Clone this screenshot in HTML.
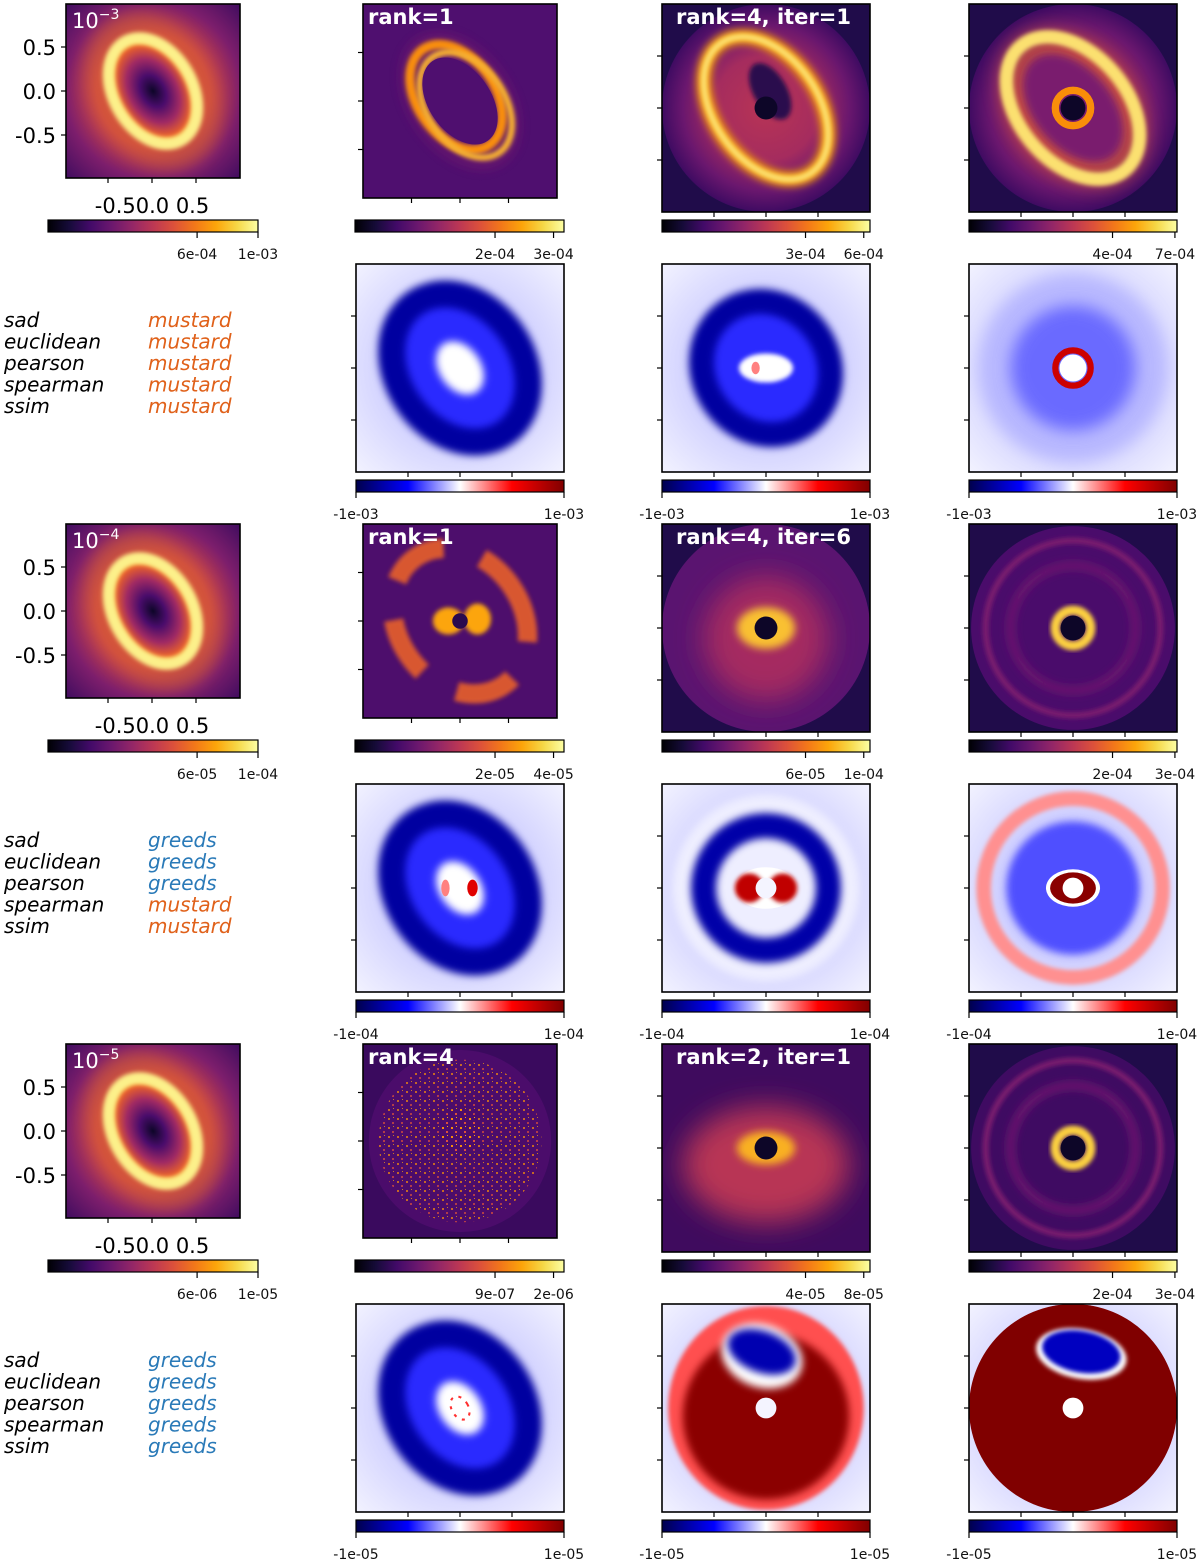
<!DOCTYPE html>
<html><head><meta charset="utf-8"><style>
html,body{margin:0;padding:0;background:#fff;}
svg{display:block;font-family:"DejaVu Sans","Liberation Sans",sans-serif;}
</style></head><body>
<svg id="fig" width="1200" height="1562" viewBox="0 0 1200 1562" xmlns="http://www.w3.org/2000/svg">
<defs>
<linearGradient id="inferno" x1="0" x2="1" y1="0" y2="0">
<stop offset="0" stop-color="#000004"/><stop offset=".1" stop-color="#160b39"/><stop offset=".2" stop-color="#420a68"/><stop offset=".3" stop-color="#6a176e"/><stop offset=".4" stop-color="#932667"/><stop offset=".5" stop-color="#bc3754"/><stop offset=".6" stop-color="#dd513a"/><stop offset=".7" stop-color="#f37819"/><stop offset=".8" stop-color="#fca50a"/><stop offset=".9" stop-color="#f6d746"/><stop offset="1" stop-color="#fcffa4"/>
</linearGradient>
<linearGradient id="seismic" x1="0" x2="1" y1="0" y2="0">
<stop offset="0" stop-color="#00004c"/><stop offset=".25" stop-color="#0000ff"/><stop offset=".5" stop-color="#ffffff"/><stop offset=".75" stop-color="#ff0000"/><stop offset="1" stop-color="#800000"/>
</linearGradient>
<radialGradient id="modelBg" cx=".5" cy=".5" r=".72">
<stop offset="0" stop-color="#d9542f"/><stop offset=".45" stop-color="#c8424a"/><stop offset=".7" stop-color="#7d1e6c"/><stop offset="1" stop-color="#3c0b5e"/>
</radialGradient>
<radialGradient id="innerGrad" cx=".5" cy=".5" r=".5">
<stop offset="0" stop-color="#0d0628"/><stop offset=".3" stop-color="#4a0c6b"/><stop offset=".6" stop-color="#a02a63"/><stop offset=".85" stop-color="#e8602b"/><stop offset="1" stop-color="#f8a018"/>
</radialGradient>
<radialGradient id="diskGrad" cx=".5" cy=".5" r=".5">
<stop offset="0" stop-color="#b83455"/><stop offset=".5" stop-color="#a52c5e"/><stop offset=".8" stop-color="#6a176e"/><stop offset="1" stop-color="#3f0b62"/>
</radialGradient>
<radialGradient id="divBg" cx=".5" cy=".5" r=".72">
<stop offset="0" stop-color="#a8a8ff"/><stop offset=".6" stop-color="#d8d8ff"/><stop offset="1" stop-color="#f4f4ff"/>
</radialGradient>
<filter id="b2" x="-20%" y="-20%" width="140%" height="140%"><feGaussianBlur stdDeviation="2"/></filter>
<filter id="b4" x="-30%" y="-30%" width="160%" height="160%"><feGaussianBlur stdDeviation="4"/></filter>
<filter id="b8" x="-40%" y="-40%" width="180%" height="180%"><feGaussianBlur stdDeviation="8"/></filter>
<filter id="b14" x="-50%" y="-50%" width="200%" height="200%"><feGaussianBlur stdDeviation="14"/></filter>
<pattern id="speck" width="9" height="9" patternUnits="userSpaceOnUse">
<rect x="1" y="2" width="2" height="2" fill="#f98e09"/><rect x="5" y="6" width="2" height="2" fill="#dd513a"/><rect x="6" y="1" width="1" height="1" fill="#fca50a"/>
</pattern>
</defs>
</svg>
<script>
const NS='http://www.w3.org/2000/svg';
const svg=document.getElementById('fig');

// ---- data ----
const exponents=['-3','-4','-5'];
const rankLabels=['rank=1','rank=1','rank=4'];
const iterLabels=['rank=4, iter=1','rank=4, iter=6','rank=2, iter=1'];
const metricNames=['sad','euclidean','pearson','spearman','ssim'];
const winners0=['mustard','mustard','mustard','mustard','mustard'];
const winners1=['greeds','greeds','greeds','mustard','mustard'];
const winners2=['greeds','greeds','greeds','greeds','greeds'];
const winners=[winners0,winners1,winners2];
const axisTicks=['0.5','0.0','-0.5'];
const axisTickVals=[0.5,0.0,-0.5];
const cb0Labels=[['6e-04','1e-03'],['6e-05','1e-04'],['6e-06','1e-05']];
const cb1Labels=[['2e-04','3e-04'],['2e-05','4e-05'],['9e-07','2e-06']];
const cb2Labels=[['3e-04','6e-04'],['6e-05','1e-04'],['4e-05','8e-05']];
const cb3Labels=[['4e-04','7e-04'],['2e-04','3e-04'],['2e-04','3e-04']];
const cbFracs0=[0.71,1.0];
const cbFracs1=[0.67,0.95];
const cbFracs2=[0.69,0.97];
const cbFracs3=[0.69,0.99];
const divLabels=[['-1e-03','1e-03'],['-1e-04','1e-04'],['-1e-05','1e-05']];

function mk(tag,attrs,parent,name){
  const e=document.createElementNS(NS,tag);
  for(const k in attrs) e.setAttribute(k,attrs[k]);
  
  
  parent.appendChild(e);
  return e;
}
let clipId=0;
function panel(x,y,s,name,ticks){
  const g=mk('g',{},svg,name);
  const id='c'+(clipId++);
  const cp=mk('clipPath',{id:id},g,name+'-clip');
  mk('rect',{x:x,y:y,width:s,height:s},cp,name+'-clip-rect');
  const inner=mk('g',{'clip-path':'url(#'+id+')'},g,name+'-image');
  const cx=x+s/2, cy=y+s/2;
  const P={
    rect(fill,nm){return mk('rect',{x:x,y:y,width:s,height:s,fill:fill},inner,nm);},
    E(fx,fy,rx,ry,rot,attrs,nm){
      const a=Object.assign({cx:cx+fx*s,cy:cy+fy*s,rx:rx*s,ry:ry*s,transform:'rotate('+rot+' '+(cx+fx*s)+' '+(cy+fy*s)+')'},attrs);
      if(a['stroke-width']!==undefined) a['stroke-width']=a['stroke-width']*s;
      return mk('ellipse',a,inner,nm);
    }
  };
  P.finish=function(){
    mk('rect',{x:x,y:y,width:s,height:s,fill:'none',stroke:'#000','stroke-width':1.6},g,name+'-frame');
    if(ticks){
      [0.25,0.5,0.75].forEach(f=>{
        mk('line',{x1:x-5,x2:x,y1:y+f*s,y2:y+f*s,stroke:'#000','stroke-width':1.2},g,name+'-ytick');
        mk('line',{x1:x+f*s,x2:x+f*s,y1:y+s,y2:y+s+5,stroke:'#000','stroke-width':1.2},g,name+'-xtick');
      });
    }
  };
  return P;
}
function colorbar(x,y,w,grad,labels,fracs,ly,name){
  const g=mk('g',{},svg,name);
  mk('rect',{x:x,y:y,width:w,height:12,fill:'url(#'+grad+')',stroke:'#000','stroke-width':1.2},g,name+'-bar');
  labels.forEach((t,i)=>{
    const tx=x+fracs[i]*w;
    mk('line',{x1:tx,x2:tx,y1:y+12,y2:y+18,stroke:'#000','stroke-width':1.2},g,name+'-tick');
    const tt=mk('text',{x:tx,y:ly,'font-size':14,'text-anchor':'middle',fill:'#111'},g,name+'-tick-label');
    tt.textContent=t;
  });
}
function text(x,y,str,attrs,name){const t=mk('text',Object.assign({x:x,y:y},attrs),svg,name);t.textContent=str;return t;}

for(let gi=0;gi<3;gi++){
  const o=520*gi;
  const m=panel(66,4+o,174,'model-panel-'+gi,false);
  m.rect('url(#modelBg)','model-bg');
  m.E(0,0,.36,.48,-30,{fill:'#e06a2a',opacity:.45,filter:'url(#b8)'},'model-glow');
  m.E(0,0,.225,.325,-30,{fill:'url(#innerGrad)'},'model-inner');
  m.E(0,0,.225,.325,-30,{fill:'none',stroke:'#fcf08a','stroke-width':.07,filter:'url(#b2)'},'model-ring');
  m.finish();
  text(72,28+o,'10',{fill:'#fff','font-size':21},'exponent-label').innerHTML='10<tspan dy="-9" font-size="14">−'+exponents[gi].slice(1)+'</tspan>';
  axisTickVals.forEach((v,i)=>{
    const yy=4+o+87-v*88;
    mk('line',{x1:61,x2:66,y1:yy,y2:yy,stroke:'#000','stroke-width':1.2},svg,'model-ytick');
    text(56,yy+8,axisTicks[i],{'font-size':21,'text-anchor':'end',fill:'#000'},'model-ytick-label');
  });
  [-0.5,0,0.5].forEach(v=>{
    const xx=152+v*88;
    mk('line',{x1:xx,x2:xx,y1:178+o,y2:183+o,stroke:'#000','stroke-width':1.2},svg,'model-xtick');
  });
  text(152,213+o,'-0.50.0 0.5',{'font-size':21,'text-anchor':'middle',fill:'#000'},'model-xtick-labels');
  colorbar(48,220+o,210,'inferno',cb0Labels[gi],cbFracs0,259+o,'model-colorbar-'+gi);

  const r=panel(363,4+o,194,'rank-panel-'+gi,true);
  if(gi===0){
    r.rect('#4f0f6f','rank-bg');
    r.E(0,0,.27,.4,-35,{fill:'#6a176e',opacity:.6,filter:'url(#b4)'},'rank-wedge');
    r.E(-.02,-.02,.2,.3,-35,{fill:'none',stroke:'#f98e09','stroke-width':.05,filter:'url(#b2)'},'rank-ring');
    r.E(.03,.02,.2,.3,-35,{fill:'none',stroke:'#f6b030','stroke-width':.035,filter:'url(#b2)'},'rank-ring2');
    r.E(0,0,.16,.25,-35,{fill:'#4f0f6f'},'rank-hole');
  } else if(gi===1){
    r.rect('#4d0e6c','rank-bg');
    r.E(0,0,.32,.4,-35,{fill:'none',stroke:'#e8602b','stroke-width':.1,'stroke-dasharray':'60 40',filter:'url(#b2)',opacity:.9},'rank-arcs');
    r.E(-.06,0,.08,.07,0,{fill:'#fca50a',filter:'url(#b2)'},'rank-blob-left');
    r.E(.09,-.01,.07,.08,0,{fill:'#fca50a',filter:'url(#b2)'},'rank-blob-right');
    r.E(0,0,.04,.04,0,{fill:'#2a0a4e'},'rank-center');
  } else {
    r.rect('#3a0a5e','rank-bg');
    r.E(0,0,.47,.47,0,{fill:'#4b0c6b'},'rank-disk');
    r.E(0,0,.42,.42,0,{fill:'url(#speck)',opacity:.7},'rank-speckle');
    r.E(0,-.05,.1,.12,0,{fill:'url(#speck)'},'rank-speckle-core');
  }
  r.finish();
  text(368,24+o,rankLabels[gi],{fill:'#fff','font-size':21,'font-weight':'bold'},'rank-label');
  colorbar(355,220+o,209,'inferno',cb1Labels[gi],cbFracs1,259+o,'rank-colorbar-'+gi);

  const p2=panel(662,4+o,208,'iter-panel-'+gi,true);
  p2.rect('#200c4a','iter-bg');
  if(gi===0){
    p2.E(0,0,.5,.5,0,{fill:'url(#diskGrad)'},'iter-disk');
    p2.E(0,0,.25,.38,-35,{fill:'none',stroke:'#fba60f','stroke-width':.07,filter:'url(#b4)'},'iter-ring');
    p2.E(0,0,.25,.38,-35,{fill:'none',stroke:'#fce070','stroke-width':.03,filter:'url(#b2)'},'iter-ring-core');
    p2.E(.02,-.08,.08,.15,-30,{fill:'#2a0a4e',filter:'url(#b2)'},'iter-dark-center');
    p2.E(0,0,.055,.055,0,{fill:'#0d0628'},'iter-hole');
  } else if(gi===1){
    p2.E(0,0,.5,.5,0,{fill:'#5a1470'},'iter-disk');
    p2.E(0,.05,.3,.3,0,{fill:'#a52c60',filter:'url(#b14)'},'iter-glow');
    p2.E(0,0,.14,.1,0,{fill:'#f9c030',filter:'url(#b4)'},'iter-bright');
    p2.E(0,0,.055,.055,0,{fill:'#0d0628'},'iter-hole');
  } else {
    p2.rect('#3f0b5e','iter-disk');
    p2.E(0,.08,.4,.28,0,{fill:'#b83455',filter:'url(#b14)'},'iter-glow');
    p2.E(0,0,.14,.08,0,{fill:'#f9b020',filter:'url(#b4)'},'iter-bright');
    p2.E(0,0,.055,.055,0,{fill:'#0d0628'},'iter-hole');
  }
  p2.finish();
  text(676,24+o,iterLabels[gi],{fill:'#fff','font-size':21,'font-weight':'bold'},'iter-label');
  colorbar(662,220+o,208,'inferno',cb2Labels[gi],cbFracs2,259+o,'iter-colorbar-'+gi);

  const p3=panel(969,4+o,208,'final-panel-'+gi,true);
  p3.rect('#200c4a','final-bg');
  if(gi===0){
    p3.E(0,0,.5,.5,0,{fill:'url(#diskGrad)'},'final-disk');
    p3.E(0,0,.3,.43,-40,{fill:'#e06a2a',opacity:.5,filter:'url(#b8)'},'final-glow');
    p3.E(0,0,.26,.39,-40,{fill:'none',stroke:'#fbe070','stroke-width':.065,filter:'url(#b2)'},'final-ring');
    p3.E(0,0,.19,.3,-40,{fill:'#7a1f6e',filter:'url(#b4)'},'final-inner');
    p3.E(0,0,.085,.085,0,{fill:'none',stroke:'#f98e09','stroke-width':.035},'final-inner-ring');
    p3.E(0,0,.06,.06,0,{fill:'#0d0628'},'final-hole');
  } else {
    p3.E(0,0,.49,.49,0,{fill:gi===1?'#4a0c6b':'#3f0b62'},'final-disk');
    p3.E(0,0,.42,.42,0,{fill:'none',stroke:'#7a1f6e','stroke-width':.03,filter:'url(#b2)'},'final-faint-ring');
    p3.E(0,0,.3,.3,0,{fill:'none',stroke:'#6a176e','stroke-width':.04,filter:'url(#b4)'},'final-faint-ring2');
    p3.E(0,0,.085,.085,0,{fill:'none',stroke:'#fcd040','stroke-width':.045,filter:'url(#b2)'},'final-inner-ring');
    p3.E(0,0,.06,.06,0,{fill:'#0d0628'},'final-hole');
  }
  p3.finish();
  colorbar(969,220+o,208,'inferno',cb3Labels[gi],cbFracs3,259+o,'final-colorbar-'+gi);

  metricNames.forEach((nm,i)=>{
    const yy=327+o+i*21.5;
    text(4,yy,nm,{'font-size':20,'font-style':'italic',fill:'#000'},'metric-name');
    const w=winners[gi][i];
    text(148,yy,w,{'font-size':20,'font-style':'italic',fill:w==='mustard'?'#e0611a':'#2a7ab8'},'metric-winner');
  });

  const d1=panel(356,264+o,208,'residual-rank-'+gi,true);
  d1.rect('url(#divBg)','residual-bg');
  d1.E(0,0,.31,.39,-35,{fill:'#2a2aff',filter:'url(#b4)'},'residual-inner');
  d1.E(0,0,.3,.38,-35,{fill:'none',stroke:'#0000a0','stroke-width':.13,filter:'url(#b4)'},'residual-ring');
  d1.E(0,0,.1,.14,-35,{fill:'#ffffff',filter:'url(#b4)'},'residual-center');
  if(gi===1){
    d1.E(.06,0,.025,.04,0,{fill:'#e00000'},'residual-red-blob');
    d1.E(-.07,0,.02,.04,0,{fill:'#ff8080'},'residual-red-blob2');
  }
  if(gi===2){
    d1.E(0,0,.04,.06,-30,{fill:'none',stroke:'#ff3030','stroke-width':.01,'stroke-dasharray':'3 6'},'residual-red-specks');
  }
  d1.finish();
  colorbar(356,480+o,208,'seismic',divLabels[gi],[0,1],519+o,'residual-rank-colorbar-'+gi);

  const d2=panel(662,264+o,208,'residual-iter-'+gi,true);
  d2.rect('url(#divBg)','residual-bg');
  if(gi===0){
    d2.E(0,0,.3,.33,-35,{fill:'#2a2aff',filter:'url(#b4)'},'residual-inner');
    d2.E(0,0,.3,.33,-35,{fill:'none',stroke:'#0000a0','stroke-width':.12,filter:'url(#b4)'},'residual-ring');
    d2.E(0,0,.13,.07,0,{fill:'#ffffff',filter:'url(#b2)'},'residual-center');
    d2.E(-.05,0,.02,.03,0,{fill:'#ff8080'},'residual-red');
  } else if(gi===1){
    d2.E(0,0,.45,.45,0,{fill:'#eeeeff',filter:'url(#b4)'},'residual-outer');
    d2.E(0,0,.3,.3,0,{fill:'none',stroke:'#0000a8','stroke-width':.12,filter:'url(#b4)'},'residual-ring');
    d2.E(0,0,.15,.1,0,{fill:'#ffffff'},'residual-center');
    d2.E(-.08,0,.07,.07,0,{fill:'#c00000',filter:'url(#b2)'},'residual-lobe-left');
    d2.E(.08,0,.07,.07,0,{fill:'#c00000',filter:'url(#b2)'},'residual-lobe-right');
    d2.E(0,0,.05,.05,0,{fill:'#f4f4ff'},'residual-hole');
  } else {
    d2.E(0,0,.47,.49,0,{fill:'#ff5050',filter:'url(#b2)'},'residual-disk-edge');
    d2.E(0,.04,.4,.4,0,{fill:'#8b0000',filter:'url(#b4)'},'residual-disk');
    d2.E(-.02,-.25,.2,.15,20,{fill:'#ffffff',filter:'url(#b4)'},'residual-blue-halo');
    d2.E(-.02,-.27,.17,.1,20,{fill:'#0000b0',filter:'url(#b4)'},'residual-blue');
    d2.E(0,0,.05,.05,0,{fill:'#f4f4ff'},'residual-hole');
  }
  d2.finish();
  colorbar(662,480+o,208,'seismic',divLabels[gi],[0,1],519+o,'residual-iter-colorbar-'+gi);

  const d3=panel(969,264+o,208,'residual-final-'+gi,true);
  d3.rect('url(#divBg)','residual-bg');
  if(gi===0){
    d3.E(0,0,.45,.45,0,{fill:'#b8b8ff',filter:'url(#b8)'},'residual-outer');
    d3.E(0,0,.3,.3,0,{fill:'#6a6aff',filter:'url(#b8)'},'residual-inner');
    d3.E(0,0,.085,.085,0,{fill:'none',stroke:'#cc0000','stroke-width':.03},'residual-red-ring');
    d3.E(0,0,.065,.065,0,{fill:'#ffffff'},'residual-hole');
  } else if(gi===1){
    d3.E(0,0,.43,.43,0,{fill:'none',stroke:'#ff9090','stroke-width':.07,filter:'url(#b2)'},'residual-red-outer-ring');
    d3.E(0,0,.32,.32,0,{fill:'#5050ff',filter:'url(#b4)'},'residual-inner');
    d3.E(0,0,.13,.09,0,{fill:'#ffffff'},'residual-white');
    d3.E(0,0,.11,.075,0,{fill:'#8a0000'},'residual-core');
    d3.E(0,0,.05,.05,0,{fill:'#ffffff'},'residual-hole');
  } else {
    d3.E(0,0,.5,.5,0,{fill:'#800000'},'residual-disk');
    d3.E(.04,-.26,.22,.12,10,{fill:'#ffffff',filter:'url(#b2)'},'residual-blue-halo');
    d3.E(.04,-.27,.19,.1,10,{fill:'#0000c0',filter:'url(#b2)'},'residual-blue');
    d3.E(0,0,.05,.05,0,{fill:'#ffffff'},'residual-hole');
  }
  d3.finish();
  colorbar(969,480+o,208,'seismic',divLabels[gi],[0,1],519+o,'residual-final-colorbar-'+gi);
}
</script>
</body></html>
